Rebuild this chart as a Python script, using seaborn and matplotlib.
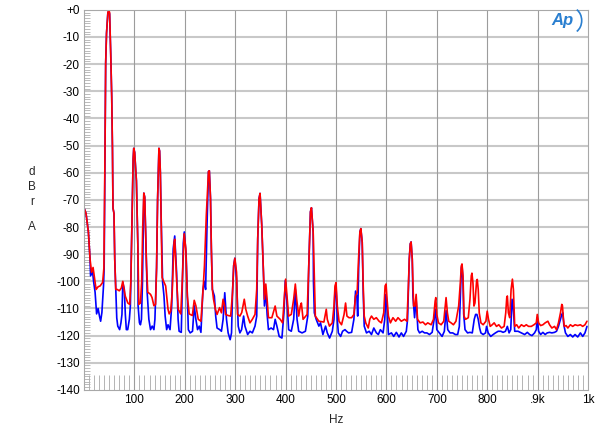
import matplotlib
matplotlib.use("Agg")
import matplotlib.pyplot as plt
from matplotlib.patches import Arc
from matplotlib.ticker import MultipleLocator
import seaborn as sns
import pandas as pd

# spectrum traces, (Hz, dBrA)
red_trace = [
    (1, -73.4), (4, -75), (8.7, -81.8), (12, -91.8), (15, -96.7), (18, -94.9), (21, -99), (24, -103),
    (28, -102), (32, -101.7), (37, -100.4), (39.5, -95), (41.7, -51.6), (43, -19.6), (44.7, -8.6),
    (47.4, -1), (49, 0), (50.8, -1), (53, -16), (55, -32), (56.5, -51.6), (57.5, -73), (59.5, -75),
    (61, -91.8), (63, -103), (66, -103), (70, -103.5), (74, -102.5), (77, -100), (80, -103.5),
    (82, -105.5), (87, -108), (90.7, -108.5), (93, -100), (95.5, -75), (97.5, -55), (98.7, -51),
    (100.5, -52.5), (102, -57), (104, -63), (107, -88), (108.7, -108.5), (112, -108), (114.5, -100),
    (116.5, -80), (118.7, -67.5), (120.5, -69), (122, -80), (124, -94), (126.5, -104), (132, -104.8),
    (135, -106), (138.7, -109), (142, -108.5), (144, -95), (146, -70), (148.7, -51), (150, -52),
    (151.5, -60), (153, -75.6), (155, -98.6), (158, -100), (162, -101.7), (166.7, -110.3), (169, -112),
    (172, -111), (175, -104), (178.7, -85.6), (180, -84.5), (182, -92), (184, -100.4), (187, -110.3),
    (192, -112), (195, -100), (196.7, -91.8), (198.7, -82.5), (202, -88), (205, -105.4), (208.7, -112),
    (215, -112.6), (218.7, -107), (222, -109), (226.7, -114), (232, -114.7), (236.7, -101.7),
    (239, -94.2), (242.7, -75.6), (247, -59.5), (248.7, -59.3), (251, -69.5), (252.7, -88),
    (254.7, -103), (257, -106.6), (260.7, -110.3), (264, -112.2), (269, -109.7), (272.7, -111.6),
    (276, -106.6), (279, -109), (281, -112.2), (286, -112.6), (291, -112.8), (294.7, -104.2),
    (297, -94.2), (299.3, -91.5), (302.7, -96.7), (304.7, -112.2), (309.3, -112.8), (313, -111.5),
    (318, -106.6), (321, -110.3), (324.7, -112.8), (329.3, -115.3), (334, -114), (339.3, -112.2),
    (342.7, -103), (344.7, -84.3), (347.3, -69.5), (349.3, -67.6), (352.7, -79.4), (356, -96.7),
    (358, -106.6), (360.7, -101), (363.3, -106.6), (366, -113.4), (372.7, -113.4), (379.3, -109.1),
    (382.7, -112.8), (389.3, -114), (394, -115.3), (397.3, -106.6), (400, -99.2), (403.3, -106.6),
    (406, -112.8), (411.3, -112.2), (416, -106.6), (419.3, -101), (422, -106.6), (426, -112.8),
    (429.3, -109), (431.3, -108), (434.7, -114), (442.7, -112.2), (446, -94.2), (449.3, -74.4),
    (451.3, -72.9), (454.7, -81.8), (456.7, -96.7), (459, -112.8), (466, -114.7), (476, -115),
    (480.7, -110.3), (482.7, -114), (487, -116.5), (492.7, -115.3), (496, -109.1), (498, -101.7),
    (500, -100.5), (502.6, -109.1), (506, -114.7), (511, -116), (516, -112.2), (519, -108),
    (521.7, -112.8), (525.7, -113.4), (531, -113.4), (535.5, -112.2), (538.8, -105.4), (542, -104.2),
    (544.7, -91.8), (547.4, -81.8), (549.3, -80.6), (552, -85.6), (554, -101.7), (556, -112.8),
    (559, -115.3), (564, -117.2), (567, -114), (570.4, -112.8), (575, -114), (580, -113.4),
    (585.5, -114.7), (590, -115.3), (594.7, -111.6), (597.4, -101.7), (599.3, -101), (601.3, -106.6),
    (604, -112.8), (608, -115.3), (613, -113.4), (618.4, -114.7), (623, -113.4), (629.6, -114.7),
    (636, -114), (640.8, -114.7), (643.4, -103), (645.4, -91.8), (647.4, -86.2), (649, -85.5),
    (651.3, -91.8), (654, -109.1), (656.6, -109.1), (659, -104.8), (661.8, -114), (667, -115.3),
    (672.4, -115), (677.6, -116), (682, -115.3), (688.8, -116), (693.4, -114), (696.7, -107.3),
    (698, -106), (700, -112.2), (703.3, -115.3), (708.6, -116), (713.8, -114.7), (718.4, -106),
    (721, -111.6), (723.7, -114.7), (728.3, -115.3), (733, -116), (738, -114.7), (743.4, -109.1),
    (746.7, -100.5), (748.7, -94.3), (750, -93.6), (752, -98), (754, -112.8), (757, -114),
    (762.5, -113.4), (765.8, -106.6), (768.4, -98), (769.7, -97), (771.7, -100.5), (773.7, -109.1),
    (775.7, -108), (779, -99.8), (780.3, -99.3), (782.2, -103), (784.2, -111.6), (787.5, -115.3),
    (792, -116), (797.4, -114.7), (800, -111), (802.6, -114), (806, -116.6), (810, -116),
    (813.8, -115.3), (818.4, -116.6), (823, -116), (828.3, -117.2), (833.6, -116.6), (836.8, -111.6),
    (838.8, -106), (840, -105.4), (842, -111.6), (844.7, -113.4), (847.4, -103), (850, -99.2),
    (852, -103), (854.6, -116.6), (858.5, -116), (862.5, -117.2), (867.8, -116), (873, -116.6),
    (877.6, -116), (882, -116.6), (887.5, -116.6), (892.8, -116), (897.4, -115.3), (899.3, -112.2),
    (902, -115.3), (906, -116.3), (910.5, -116), (915, -115.3), (920.4, -114.7), (923.7, -116),
    (928.3, -117.2), (933.6, -116.6), (937.5, -117.8), (941.4, -115.3), (945.4, -111.6), (948, -108.5),
    (949.3, -109), (951.3, -114), (953, -116.6), (956.6, -116.3), (960, -117.2), (965, -116),
    (969.7, -116.6), (974.3, -116), (979.6, -116.3), (984.9, -116), (989.5, -116.6), (994, -116),
    (998, -114.7),
]

blue_trace = [
    (1, -73.4), (4, -75), (8.7, -81.8), (12, -91.8), (13, -98), (17, -96.5), (19, -100), (22, -104),
    (25, -112), (28, -110), (30.7, -112.8), (33, -114.7), (35.5, -111.5), (38.7, -101.7), (40, -95),
    (41.7, -51.6), (43, -19.6), (44.7, -8.6), (47.4, -1), (49, -0.5), (50.8, -1.5), (53, -16),
    (55, -32), (56.5, -51.6), (57.5, -73), (59.5, -75), (61, -91.8), (63, -103), (65, -113.5),
    (67, -116.5), (70.7, -117.8), (73.3, -115.3), (75.3, -112.2), (77, -100.4), (80, -103),
    (82, -112.2), (84, -117.8), (86.7, -117.8), (90, -114), (92, -109), (95.5, -75), (97.5, -55),
    (98.7, -51), (100.5, -52.5), (102, -57), (104, -63), (107, -88), (107.3, -109), (110, -115.3),
    (112, -116), (114, -114), (116, -100.4), (118.7, -67.5), (120.5, -69), (122, -80), (124, -94),
    (125.3, -104), (128.7, -114), (132, -117.8), (135.3, -116.5), (138.7, -117.8), (140.7, -114),
    (144, -95), (146, -70), (148.7, -51), (150, -52), (151.5, -60), (153, -75.6), (156, -100.4),
    (158.7, -105.4), (161, -112.8), (164, -117.8), (166.7, -116), (170.7, -117.8), (174, -109),
    (177, -88), (180, -83.3), (183.7, -96.7), (186.7, -114), (188.7, -118.4), (193, -118.8),
    (197, -86), (199, -81.8), (202.7, -90.5), (205, -105.4), (207, -117.8), (210.7, -119),
    (215.3, -118.4), (218.7, -109), (222, -114), (225.3, -117.8), (228.7, -116.5), (232, -118.8),
    (236, -103), (238.7, -100), (241.3, -103), (244, -80), (247, -59.5), (248.7, -59.3), (251, -69.5),
    (252.7, -88), (254.7, -103), (258.7, -105.4), (261.3, -112.8), (264, -117.2), (269.3, -117.8),
    (272.7, -118.4), (276, -114), (279.3, -104.2), (282.7, -114), (286, -119), (290, -121.5),
    (292.7, -119), (294.7, -104), (297, -94.2), (299.3, -91.5), (302.7, -99), (306, -116.5),
    (309.3, -119), (312.7, -117.8), (316.7, -112.8), (319.3, -116.5), (324.7, -119.6), (329.3, -118.4),
    (334, -119), (339.3, -116.5), (342.7, -112.8), (344.7, -84.3), (347.3, -69.5), (349.3, -67.6),
    (352.7, -79.4), (356, -96.7), (358, -109.1), (360.7, -103), (363.3, -112.2), (366, -117.8),
    (371.3, -117.2), (376, -117.8), (379.3, -114), (382.7, -116.5), (387.3, -120.3), (392.7, -120.9),
    (396.7, -111.6), (399.3, -99.8), (403.3, -109.1), (406, -117.8), (411.3, -118.4), (416, -114),
    (419.3, -103), (422.7, -114), (426, -118.4), (432.7, -119), (439.3, -118.4), (444, -112.8),
    (446, -94.2), (449.3, -74.4), (451.3, -72.9), (454.7, -81.8), (455.3, -100), (457, -111.6),
    (460.7, -114), (466, -116.5), (469.3, -115.3), (474, -119.6), (479.3, -116.5), (482.7, -119),
    (487.3, -120.9), (492.7, -118.4), (496, -114), (498, -103), (500, -101.5), (502.6, -114),
    (504.6, -119), (509.2, -120.3), (513, -118.4), (517.8, -117.8), (521, -118.4), (525, -119),
    (531, -118.8), (535.5, -114), (538.8, -103.6), (541.5, -106), (543, -112.8), (545, -95),
    (547.4, -81.8), (549.3, -80.6), (552, -85.6), (554, -104.2), (556, -116.5), (560.5, -119),
    (565.8, -118.4), (570.4, -119.6), (575, -117.2), (580.2, -119), (584, -119.6), (588, -117.8),
    (593.4, -119), (596.7, -114), (599.3, -104.8), (601.3, -109.1), (604, -119.6), (610, -119),
    (614.5, -120.3), (619.7, -118.8), (625, -120.5), (629.6, -119), (634, -120.3), (639.5, -118.4),
    (642, -114), (645.4, -91.8), (647.4, -86.2), (649, -85.5), (651.3, -91.8), (652.6, -105.4),
    (655.9, -113.4), (659, -106.6), (662.5, -117.8), (665.8, -119), (671, -118.4), (675.7, -119),
    (680.3, -119), (685.5, -119.6), (690.8, -118.8), (694.7, -114), (697.4, -110.3), (700, -117.8),
    (705, -119), (710.5, -120.3), (715, -118.4), (718.4, -110.8), (721.7, -117.8), (726.3, -119),
    (731.6, -119), (736.8, -119.6), (741.4, -119.6), (744.7, -116.6), (746.7, -106), (748.7, -95),
    (750, -94), (752, -100), (753.3, -112), (756, -117.8), (761, -119), (765.8, -118.8), (770.4, -119),
    (774.3, -114), (777, -112.2), (779.6, -112.2), (782.2, -114), (785, -117.2), (787.5, -119),
    (792, -119.6), (796.7, -119), (798.7, -116.6), (802, -119), (807, -120.3), (811.8, -119.6),
    (816.4, -119), (821.7, -118.4), (827, -118.4), (831.6, -118.8), (836.2, -118.4), (840, -116.6),
    (843.4, -119), (846.7, -117.8), (849.3, -106.6), (851.9, -110.3), (854.6, -118.4), (861.2, -118.4),
    (867.8, -119), (874.3, -119.6), (879.6, -118.8), (884.2, -119.6), (888.8, -120), (894, -119),
    (897.4, -117.8), (899.3, -113.4), (902, -118.4), (906, -119.6), (910.5, -118.8), (915, -119.6),
    (919, -119), (923.7, -118.8), (928.3, -119), (933.6, -118.8), (937.5, -118.4), (941.4, -116.6),
    (945.4, -114), (948, -112.2), (950, -111.6), (952, -116), (955.3, -119), (960, -120.3),
    (965, -119.6), (969.7, -120.5), (974.3, -119.6), (979.6, -120.5), (984.9, -119), (989.5, -120.3),
    (994, -119), (998, -116.6),
]

x_ticks = [100, 200, 300, 400, 500, 600, 700, 800, 900, 1000]
x_labels = ["100", "200", "300", "400", "500", "600", "700", "800", ".9k", "1k"]
y_ticks = list(range(0, -141, -10))
y_labels = ["+0"] + [str(v) for v in y_ticks[1:]]

red = pd.DataFrame(red_trace, columns=["Hz", "dBrA"])
blue = pd.DataFrame(blue_trace, columns=["Hz", "dBrA"])

sns.set_style("white")
plt.rcParams["font.family"] = ["Liberation Sans", "DejaVu Sans"]
plt.rcParams["axes.unicode_minus"] = False

fig = plt.figure(figsize=(6, 4.28), dpi=100)
ax = fig.add_axes([0.14, 0.089, 0.84, 0.888])

sns.lineplot(data=blue, x="Hz", y="dBrA", color="#0000ff", linewidth=1.2, sort=False, ax=ax)
sns.lineplot(data=red, x="Hz", y="dBrA", color="#ff0000", linewidth=1.2, sort=False, ax=ax)

ax.set_xlim(0, 1000)
ax.set_ylim(-140, 0)
ax.set_xticks(x_ticks)
ax.set_xticklabels(x_labels)
ax.set_yticks(y_ticks)
ax.set_yticklabels(y_labels)
ax.xaxis.set_minor_locator(MultipleLocator(10))
ax.yaxis.set_minor_locator(MultipleLocator(1))

# grid: light thick horizontals, thinner darker verticals
ax.grid(False)
for v in y_ticks[1:-1]:
    ax.axhline(v, color="#c8c8c8", lw=1.5, zorder=0)
for v in x_ticks[:-1]:
    ax.axvline(v, color="#9c9c9c", lw=0.8, zorder=0)

ax.tick_params(axis="both", which="both", bottom=True, left=True)
ax.tick_params(axis="both", which="major", length=0, labelsize=8.5, pad=3, colors="black")
ax.tick_params(axis="x", which="minor", direction="in", length=11, width=0.6, color="#a8a8a8")
ax.tick_params(axis="y", which="minor", direction="in", length=4.3, width=0.6, color="#b0b0b0")
for s in ax.spines.values():
    s.set_color("#a8a8a8")
    s.set_linewidth(0.8)

ax.set_xlabel("Hz", fontsize=8.5, labelpad=6)
ax.set_ylabel("")
fig.text(0.053, 0.563, "d\nB\nr", fontsize=8.5, ha="center", va="center", linespacing=1.35)
fig.text(0.053, 0.469, "A", fontsize=8.5, ha="center", va="center")

# AP logo
fig.text(0.937, 0.952, "Ap", fontsize=12, fontstyle="italic", fontweight="bold",
         color="#2a7fd0", ha="center", va="center")
fig.add_artist(Arc((0.952, 0.952), 0.035, 0.06, theta1=-70, theta2=70,
                   transform=fig.transFigure, color="#2a7fd0", lw=1.2))

fig.savefig("out.png", dpi=100)
